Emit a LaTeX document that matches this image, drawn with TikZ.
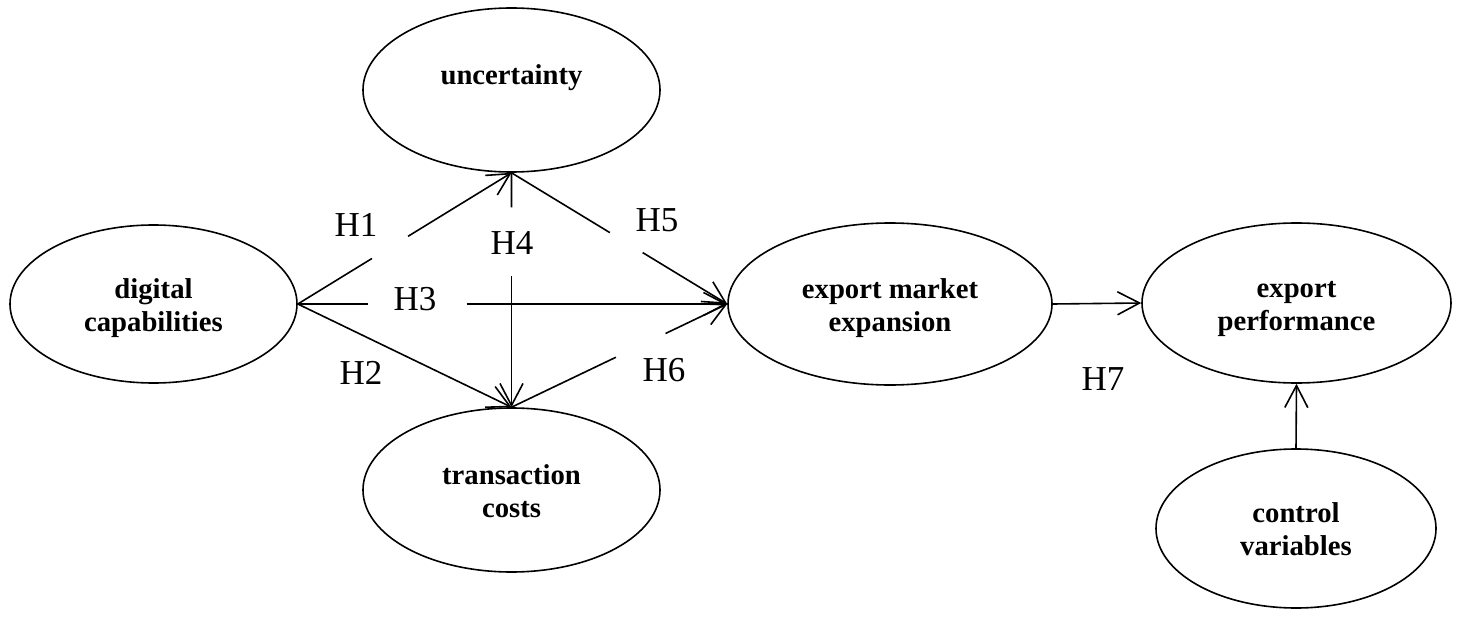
\documentclass[tikz,border=0pt]{standalone}
\usepackage{fontspec}
\setmainfont{Liberation Serif}
\usetikzlibrary{shapes.geometric,arrows.meta,calc}
\newcommand{\mytop}{\rule{0pt}{29pt}}
\newcommand{\mybot}{\rule[-8pt]{0pt}{0pt}}
\begin{document}
\begin{tikzpicture}[x=1pt,y=-1pt,
  oval/.style={draw,ellipse,line width=1.6pt,inner sep=0pt,align=center,
    font=\fontsize{28.7}{33}\selectfont\bfseries},
  hlab/.style={inner sep=0pt,font=\fontsize{35}{40}\selectfont},
  conn/.style={line width=1.6pt},
  arr/.style={line width=1.6pt,-{Straight Barb[length=22pt,width=23pt,line width=1.6pt]}}]
\useasboundingbox (0,0) rectangle (1459,623);
\node[oval,minimum width=287pt,minimum height=158pt] (dc) at (153.5,304) {\mytop digital\\capabilities\mybot};
\node[oval,minimum width=297pt,minimum height=164pt] (u) at (511.5,90) {\raisebox{5pt}[0pt][0pt]{uncertainty}};
\node[oval,minimum width=297pt,minimum height=164pt] (tc) at (511.5,490) {\mytop transaction\\costs\mybot};
\node[oval,minimum width=324pt,minimum height=162pt] (em) at (890,304) {\mytop export market\\expansion\mybot};
\node[oval,minimum width=309pt,minimum height=160pt] (ep) at (1296.5,303) {\mytop export\\performance\mybot};
\node[oval,minimum width=280pt,minimum height=159pt] (cv) at (1296,528.5) {\mytop control\\variables\mybot};
% H1
\draw[conn] (dc.east) -- ($(dc.east)!0.347!(u.south)$);
\draw[arr] ($(dc.east)!0.516!(u.south)$) -- (u.south);
% H2
\draw[arr] (dc.east) -- (tc.north);
% H3
\draw[conn] (dc.east) -- ($(dc.east)!0.163!(em.west)$);
\draw[arr] ($(dc.east)!0.393!(em.west)$) -- (em.west);
% H4
\draw[conn] (u.south) -- ($(u.south)!0.148!(tc.north)$);
\draw[arr] ($(u.south)!0.44!(tc.north)$) -- (tc.north);
% H5
\draw[conn] (u.south) -- ($(u.south)!0.456!(em.west)$);
\draw[arr] ($(u.south)!0.608!(em.west)$) -- (em.west);
% H6
\draw[conn] (tc.north) -- ($(tc.north)!0.484!(em.west)$);
\draw[arr] ($(tc.north)!0.714!(em.west)$) -- (em.west);
% H7
\draw[arr] (em.east) -- (ep.west);
% control
\draw[arr] (cv.north) -- (ep.south);
% labels
\node[hlab] (h1) at (356,225) {H1};
\node[hlab] (h2) at (361,373) {H2};
\node[hlab] (h3) at (415,299) {H3};
\node[hlab] (h4) at (512,243) {H4};
\node[hlab] (h5) at (657,220) {H5};
\node[hlab] (h6) at (664,370) {H6};
\node[hlab] (h7) at (1103,379) {H7};
\end{tikzpicture}
\end{document}
